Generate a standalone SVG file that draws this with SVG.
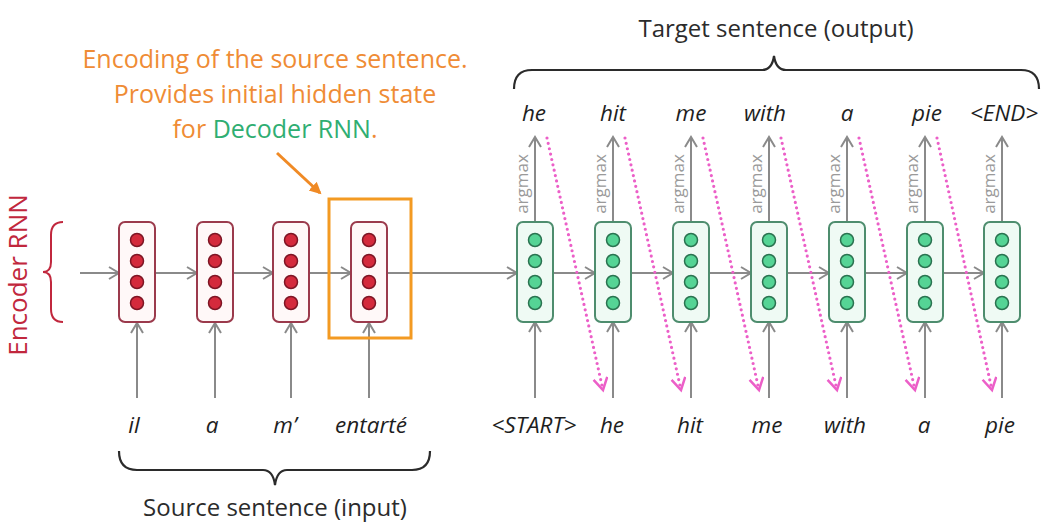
<svg xmlns="http://www.w3.org/2000/svg" width="1055" height="532" viewBox="0 0 1055 532">
<defs>
<style>
.conn{stroke:#8a8a8a;stroke-width:2;fill:none}
.pink{stroke:#ec5fc8;stroke-width:3.2;fill:none;stroke-dasharray:0 5.5;stroke-linecap:round}
.enc{fill:#fff8f8;stroke:#9b3a4c;stroke-width:2}
.encdot{fill:#d42a3c;stroke:#7e1524;stroke-width:1.5}
.dec{fill:#effaf4;stroke:#4e8d6e;stroke-width:2}
.decdot{fill:#55d495;stroke:#2a7350;stroke-width:1.5}
.word{font-family:"Open Sans","Liberation Sans",sans-serif;font-style:italic;font-size:22.5px;fill:#1e1e1e;text-anchor:middle}
.label{font-family:"Open Sans","Liberation Sans",sans-serif;font-size:24px;fill:#2b2b2b;text-anchor:middle}
.argmax{font-family:"Open Sans","Liberation Sans",sans-serif;font-size:17px;fill:#9a9a9a;text-anchor:middle}
.orange{font-family:"Open Sans","Liberation Sans",sans-serif;font-size:25px;fill:#ef8c35;text-anchor:middle}
.brace{stroke:#2b2b2b;stroke-width:2.2;fill:none}
</style>
<marker id="chev" markerUnits="userSpaceOnUse" markerWidth="14" markerHeight="16" refX="11" refY="7" orient="auto">
<path d="M1,1 L11,7 L1,13" fill="none" stroke="#8a8a8a" stroke-width="2"/>
</marker>
<marker id="pinkhead" markerUnits="userSpaceOnUse" markerWidth="16" markerHeight="18" refX="13" refY="8" orient="auto">
<path d="M1,1 L13,8 L1,15" fill="none" stroke="#ec5fc8" stroke-width="2.5"/>
</marker>
<marker id="orhead" markerUnits="userSpaceOnUse" markerWidth="14" markerHeight="14" refX="10" refY="6" orient="auto">
<path d="M0,0 L12,6 L0,12 Z" fill="#f08a25"/>
</marker>
</defs>
<rect width="1055" height="532" fill="#ffffff"/>

<g id="encoder-label">
<text x="20" y="275" transform="rotate(-90 20 275)" font-family="Open Sans, Liberation Sans, sans-serif" font-size="26" fill="#c1273d" text-anchor="middle" dominant-baseline="middle">Encoder RNN</text>
<path d="M63,222 Q51,222 51,235 L51,262 Q51,272 43,272 Q51,272 51,282 L51,309 Q51,322 63,322" fill="none" stroke="#c1273d" stroke-width="2"/>
</g>

<g id="connectors">
<line class="conn" x1="80" y1="273" x2="119" y2="273" marker-end="url(#chev)"/>
<line class="conn" x1="155" y1="273" x2="197" y2="273" marker-end="url(#chev)"/>
<line class="conn" x1="233" y1="273" x2="273" y2="273" marker-end="url(#chev)"/>
<line class="conn" x1="309" y1="273" x2="351" y2="273" marker-end="url(#chev)"/>
<line class="conn" x1="387" y1="273" x2="517" y2="273" marker-end="url(#chev)"/>
<line class="conn" x1="553" y1="273" x2="595" y2="273" marker-end="url(#chev)"/>
<line class="conn" x1="631" y1="273" x2="673" y2="273" marker-end="url(#chev)"/>
<line class="conn" x1="709" y1="273" x2="751" y2="273" marker-end="url(#chev)"/>
<line class="conn" x1="787" y1="273" x2="829" y2="273" marker-end="url(#chev)"/>
<line class="conn" x1="865" y1="273" x2="907" y2="273" marker-end="url(#chev)"/>
<line class="conn" x1="943" y1="273" x2="984" y2="273" marker-end="url(#chev)"/>
<line class="conn" x1="137" y1="398" x2="137" y2="323" marker-end="url(#chev)"/>
<line class="conn" x1="215" y1="398" x2="215" y2="323" marker-end="url(#chev)"/>
<line class="conn" x1="291" y1="398" x2="291" y2="323" marker-end="url(#chev)"/>
<line class="conn" x1="369" y1="398" x2="369" y2="323" marker-end="url(#chev)"/>
<line class="conn" x1="535" y1="398" x2="535" y2="322" marker-end="url(#chev)"/>
<line class="conn" x1="613" y1="398" x2="613" y2="322" marker-end="url(#chev)"/>
<line class="conn" x1="691" y1="398" x2="691" y2="322" marker-end="url(#chev)"/>
<line class="conn" x1="769" y1="398" x2="769" y2="322" marker-end="url(#chev)"/>
<line class="conn" x1="847" y1="398" x2="847" y2="322" marker-end="url(#chev)"/>
<line class="conn" x1="925" y1="398" x2="925" y2="322" marker-end="url(#chev)"/>
<line class="conn" x1="1002" y1="398" x2="1002" y2="322" marker-end="url(#chev)"/>
<line class="conn" x1="535" y1="222" x2="535" y2="137" marker-end="url(#chev)"/>
<line class="conn" x1="613" y1="222" x2="613" y2="137" marker-end="url(#chev)"/>
<line class="conn" x1="691" y1="222" x2="691" y2="137" marker-end="url(#chev)"/>
<line class="conn" x1="769" y1="222" x2="769" y2="137" marker-end="url(#chev)"/>
<line class="conn" x1="847" y1="222" x2="847" y2="137" marker-end="url(#chev)"/>
<line class="conn" x1="925" y1="222" x2="925" y2="137" marker-end="url(#chev)"/>
<line class="conn" x1="1002" y1="222" x2="1002" y2="137" marker-end="url(#chev)"/>
<line class="pink" x1="547" y1="138" x2="603" y2="390" marker-end="url(#pinkhead)"/>
<line class="pink" x1="625" y1="138" x2="681" y2="390" marker-end="url(#pinkhead)"/>
<line class="pink" x1="703" y1="138" x2="759" y2="390" marker-end="url(#pinkhead)"/>
<line class="pink" x1="781" y1="138" x2="837" y2="390" marker-end="url(#pinkhead)"/>
<line class="pink" x1="859" y1="138" x2="915" y2="390" marker-end="url(#pinkhead)"/>
<line class="pink" x1="937" y1="138" x2="992" y2="390" marker-end="url(#pinkhead)"/>
<line x1="277" y1="153" x2="320" y2="193" stroke="#f08a25" stroke-width="3" marker-end="url(#orhead)"/>
</g>

<g id="enc1"><rect class="enc" x="119" y="222" width="36" height="100" rx="6"/><circle class="encdot" cx="137" cy="240" r="6.5"/><circle class="encdot" cx="137" cy="261" r="6.5"/><circle class="encdot" cx="137" cy="282" r="6.5"/><circle class="encdot" cx="137" cy="303" r="6.5"/></g>
<g id="enc2"><rect class="enc" x="197" y="222" width="36" height="100" rx="6"/><circle class="encdot" cx="215" cy="240" r="6.5"/><circle class="encdot" cx="215" cy="261" r="6.5"/><circle class="encdot" cx="215" cy="282" r="6.5"/><circle class="encdot" cx="215" cy="303" r="6.5"/></g>
<g id="enc3"><rect class="enc" x="273" y="222" width="36" height="100" rx="6"/><circle class="encdot" cx="291" cy="240" r="6.5"/><circle class="encdot" cx="291" cy="261" r="6.5"/><circle class="encdot" cx="291" cy="282" r="6.5"/><circle class="encdot" cx="291" cy="303" r="6.5"/></g>
<g id="enc4"><rect class="enc" x="351" y="222" width="36" height="100" rx="6"/><circle class="encdot" cx="369" cy="240" r="6.5"/><circle class="encdot" cx="369" cy="261" r="6.5"/><circle class="encdot" cx="369" cy="282" r="6.5"/><circle class="encdot" cx="369" cy="303" r="6.5"/></g>

<g id="encoding-box">
<rect x="329" y="199" width="82" height="139" fill="none" stroke="#f39a22" stroke-width="3"/>
</g>

<g id="dec1"><rect class="dec" x="517" y="222" width="36" height="100" rx="6"/><circle class="decdot" cx="535" cy="240" r="6.5"/><circle class="decdot" cx="535" cy="261" r="6.5"/><circle class="decdot" cx="535" cy="282" r="6.5"/><circle class="decdot" cx="535" cy="303" r="6.5"/></g>
<g id="dec2"><rect class="dec" x="595" y="222" width="36" height="100" rx="6"/><circle class="decdot" cx="613" cy="240" r="6.5"/><circle class="decdot" cx="613" cy="261" r="6.5"/><circle class="decdot" cx="613" cy="282" r="6.5"/><circle class="decdot" cx="613" cy="303" r="6.5"/></g>
<g id="dec3"><rect class="dec" x="673" y="222" width="36" height="100" rx="6"/><circle class="decdot" cx="691" cy="240" r="6.5"/><circle class="decdot" cx="691" cy="261" r="6.5"/><circle class="decdot" cx="691" cy="282" r="6.5"/><circle class="decdot" cx="691" cy="303" r="6.5"/></g>
<g id="dec4"><rect class="dec" x="751" y="222" width="36" height="100" rx="6"/><circle class="decdot" cx="769" cy="240" r="6.5"/><circle class="decdot" cx="769" cy="261" r="6.5"/><circle class="decdot" cx="769" cy="282" r="6.5"/><circle class="decdot" cx="769" cy="303" r="6.5"/></g>
<g id="dec5"><rect class="dec" x="829" y="222" width="36" height="100" rx="6"/><circle class="decdot" cx="847" cy="240" r="6.5"/><circle class="decdot" cx="847" cy="261" r="6.5"/><circle class="decdot" cx="847" cy="282" r="6.5"/><circle class="decdot" cx="847" cy="303" r="6.5"/></g>
<g id="dec6"><rect class="dec" x="907" y="222" width="36" height="100" rx="6"/><circle class="decdot" cx="925" cy="240" r="6.5"/><circle class="decdot" cx="925" cy="261" r="6.5"/><circle class="decdot" cx="925" cy="282" r="6.5"/><circle class="decdot" cx="925" cy="303" r="6.5"/></g>
<g id="dec7"><rect class="dec" x="984" y="222" width="36" height="100" rx="6"/><circle class="decdot" cx="1002" cy="240" r="6.5"/><circle class="decdot" cx="1002" cy="261" r="6.5"/><circle class="decdot" cx="1002" cy="282" r="6.5"/><circle class="decdot" cx="1002" cy="303" r="6.5"/></g>

<g id="argmax-labels">
<text class="argmax" transform="translate(528 184) rotate(-90)">argmax</text>
<text class="argmax" transform="translate(606 184) rotate(-90)">argmax</text>
<text class="argmax" transform="translate(684 184) rotate(-90)">argmax</text>
<text class="argmax" transform="translate(762 184) rotate(-90)">argmax</text>
<text class="argmax" transform="translate(840 184) rotate(-90)">argmax</text>
<text class="argmax" transform="translate(918 184) rotate(-90)">argmax</text>
<text class="argmax" transform="translate(995 184) rotate(-90)">argmax</text>
</g>

<g id="target-words">
<text class="word" x="534" y="121">he</text>
<text class="word" x="613" y="121">hit</text>
<text class="word" x="691" y="121">me</text>
<text class="word" x="765" y="121">with</text>
<text class="word" x="847" y="121">a</text>
<text class="word" x="927" y="121">pie</text>
<text class="word" x="1004" y="121">&lt;END&gt;</text>
</g>

<g id="input-words">
<text class="word" x="134" y="433">il</text>
<text class="word" x="212" y="433">a</text>
<text class="word" x="285" y="433">m’</text>
<text class="word" x="371" y="433">entarté</text>
<text class="word" x="534" y="433">&lt;START&gt;</text>
<text class="word" x="612" y="433">he</text>
<text class="word" x="690" y="433">hit</text>
<text class="word" x="767" y="433">me</text>
<text class="word" x="845" y="433">with</text>
<text class="word" x="924" y="433">a</text>
<text class="word" x="1000" y="433">pie</text>
</g>

<g id="target-brace">
<path class="brace" d="M514,89 Q514,70 532,70 L762,70 Q772,70 774,56 Q776,70 786,70 L1021,70 Q1039,70 1039,89"/>
<text class="label" x="776" y="37">Target sentence (output)</text>
</g>

<g id="source-brace">
<path class="brace" d="M119,451 Q119,470 137,470 L263,470 Q273,470 275,485 Q277,470 287,470 L412,470 Q430,470 430,451"/>
<text class="label" x="275" y="516">Source sentence (input)</text>
</g>

<g id="callout">
<text class="orange" x="275" y="68">Encoding of the source sentence.</text>
<text class="orange" x="275" y="103">Provides initial hidden state</text>
<text class="orange" x="275" y="138">for <tspan fill="#2fae72">Decoder RNN</tspan>.</text>
</g>
</svg>
